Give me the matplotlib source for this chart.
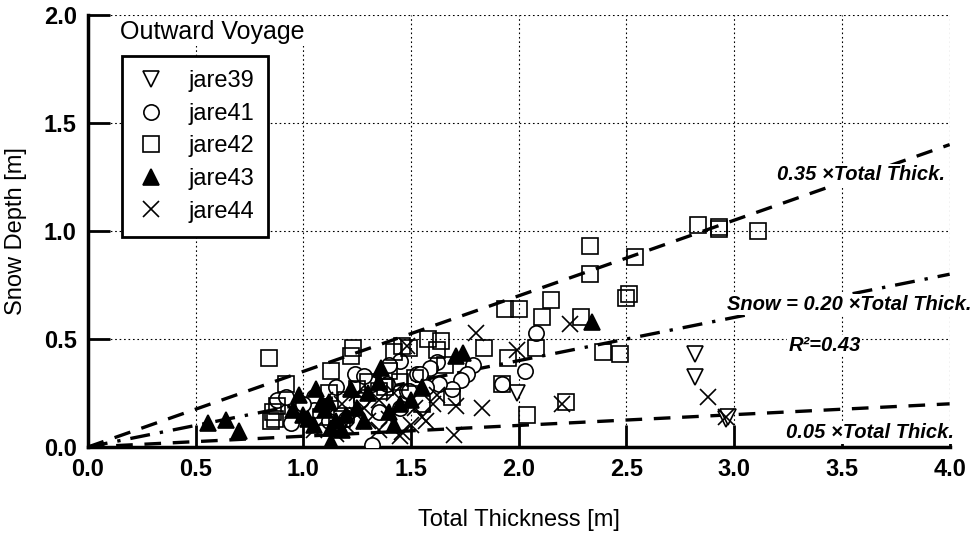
import numpy as np
import matplotlib
matplotlib.use("Agg")
import matplotlib.pyplot as plt

plt.rcParams['font.family'] = ['Liberation Sans', 'DejaVu Sans']

# ---- data (Total thickness [m], Snow depth [m]) ----
jare39_x = [1.99, 2.82, 2.82, 2.96, 2.97]
jare39_y = [0.25, 0.43, 0.325, 0.13, 0.14]

jare41_x = [0.88, 0.92, 0.975, 0.945, 1.05, 1.10, 1.24, 1.32, 1.39, 1.48, 1.45, 1.45,
            1.53, 1.32, 1.20, 2.08, 2.03, 1.92, 1.79, 1.76, 1.73, 1.69, 1.62, 1.59,
            1.54, 1.63, 1.49, 1.40, 1.05, 1.15, 1.27, 1.35, 1.00, 1.12, 1.57, 1.28]
jare41_y = [0.22, 0.23, 0.16, 0.11, 0.23, 0.19, 0.34, 0.29, 0.29, 0.26, 0.18, 0.40,
            0.34, 0.01, 0.13, 0.53, 0.35, 0.29, 0.38, 0.34, 0.31, 0.27, 0.395, 0.365,
            0.34, 0.29, 0.26, 0.38, 0.17, 0.28, 0.22, 0.16, 0.20, 0.12, 0.28, 0.33]

jare42_x = [0.84, 1.23, 1.22, 1.13, 0.92, 0.86, 0.87, 0.88, 0.85, 1.46, 1.49, 1.935,
            2.00, 2.15, 2.11, 2.33, 2.33, 2.29, 2.08, 1.95, 1.92, 2.04, 2.22, 1.84,
            1.69, 1.58, 1.64, 1.62, 1.66, 2.83, 2.54, 2.51, 2.50, 2.39, 2.47, 2.93,
            2.93, 3.11, 1.42, 1.30, 1.20, 1.35, 1.25, 1.12, 1.40, 1.52, 1.18, 1.55,
            1.45, 1.38, 1.08]
jare42_y = [0.41, 0.46, 0.42, 0.35, 0.29, 0.16, 0.13, 0.19, 0.12, 0.47, 0.46, 0.64,
            0.64, 0.68, 0.60, 0.80, 0.93, 0.60, 0.46, 0.41, 0.29, 0.15, 0.21, 0.46,
            0.23, 0.50, 0.49, 0.45, 0.38, 1.03, 0.88, 0.71, 0.69, 0.44, 0.43, 1.01,
            1.02, 1.00, 0.44, 0.30, 0.22, 0.26, 0.27, 0.25, 0.35, 0.32, 0.13, 0.20,
            0.30, 0.28, 0.14]

jare43_x = [0.56, 0.64, 0.70, 0.98, 1.06, 1.13, 1.13, 1.36, 1.71, 1.74, 2.34, 1.00,
            1.05, 1.10, 1.15, 1.20, 1.18, 1.08, 1.25, 1.30, 1.40, 1.45, 1.02, 1.35,
            1.12, 1.50, 1.28, 1.42, 1.55, 0.95, 1.22]
jare43_y = [0.11, 0.125, 0.075, 0.24, 0.27, 0.025, 0.09, 0.365, 0.42, 0.435, 0.58, 0.15,
            0.10, 0.17, 0.12, 0.15, 0.08, 0.20, 0.18, 0.25, 0.16, 0.20, 0.13, 0.30,
            0.21, 0.22, 0.12, 0.10, 0.28, 0.17, 0.27]

jare44_x = [1.80, 1.99, 2.24, 2.20, 2.88, 2.96, 1.55, 1.46, 1.70, 1.71, 1.83, 1.48,
            1.15, 1.20, 1.25, 1.30, 1.35, 1.40, 1.45, 1.50, 1.52, 1.57, 1.60, 1.35,
            1.25, 1.10, 1.05, 1.42, 1.62, 1.28, 1.18]
jare44_y = [0.53, 0.45, 0.57, 0.20, 0.23, 0.14, 0.14, 0.07, 0.055, 0.19, 0.18, 0.47,
            0.06, 0.10, 0.15, 0.12, 0.08, 0.13, 0.05, 0.10, 0.18, 0.12, 0.20, 0.22,
            0.25, 0.22, 0.08, 0.25, 0.24, 0.18, 0.20]

ratios = [0.35, 0.20, 0.05]
line_styles = [(0, (5, 3.5)), (0, (6, 3, 1, 3)), (0, (5, 3.5))]

fig = plt.figure(figsize=(9.76, 5.36), dpi=100)
ax = fig.add_axes([0.090, 0.166, 0.883, 0.806])

# reference lines
xl = np.array([0.0, 4.0])
for r, ls in zip(ratios, line_styles):
    ax.plot(xl, r * xl, color='black', lw=2.4, linestyle=ls, zorder=2)

ms = 11
ax.plot(jare39_x, jare39_y, 'v', ms=ms, mfc='white', mec='black', mew=1.2, ls='none', label='jare39', zorder=3)
ax.plot(jare41_x, jare41_y, 'o', ms=ms, mfc='white', mec='black', mew=1.2, ls='none', label='jare41', zorder=3)
ax.plot(jare42_x, jare42_y, 's', ms=ms, mfc='none', mec='black', mew=1.2, ls='none', label='jare42', zorder=3)
ax.plot(jare43_x, jare43_y, '^', ms=ms, mfc='black', mec='black', mew=1.2, ls='none', label='jare43', zorder=3)
ax.plot(jare44_x, jare44_y, 'x', ms=ms, mec='black', mew=1.2, ls='none', label='jare44', zorder=3)

ax.set_xlim(0, 4.0)
ax.set_ylim(0, 2.0)
ax.set_xticks(np.arange(0, 4.01, 0.5))
ax.set_yticks(np.arange(0, 2.01, 0.5))
ax.xaxis.set_major_formatter(matplotlib.ticker.FormatStrFormatter('%.1f'))
ax.yaxis.set_major_formatter(matplotlib.ticker.FormatStrFormatter('%.1f'))
ax.tick_params(direction='in', length=16, width=2, labelsize=17, pad=8)
for lbl in ax.get_xticklabels() + ax.get_yticklabels():
    lbl.set_fontweight('bold')
ax.grid(True, color='black', linestyle=(0, (1.5, 2.5)), lw=0.8)
ax.set_axisbelow(True)

for s in ['top', 'right']:
    ax.spines[s].set_visible(False)
for s in ['left', 'bottom']:
    ax.spines[s].set_linewidth(2.5)

ax.set_xlabel('Total Thickness [m]', fontsize=17, labelpad=20)
ax.set_ylabel('Snow Depth [m]', fontsize=17, labelpad=12)

# legend
ax.text(0.15, 1.92, 'Outward Voyage', fontsize=18, ha='left', va='center',
        bbox=dict(facecolor='white', edgecolor='none', pad=1))
leg = ax.legend(loc='upper left', bbox_to_anchor=(0.04, 0.905), fontsize=17,
                frameon=True, fancybox=False, handlelength=1.2, handletextpad=1.0,
                labelspacing=0.45, borderpad=0.6, borderaxespad=0)
leg.get_frame().set_edgecolor('black')
leg.get_frame().set_linewidth(2)
leg.get_frame().set_alpha(1)

# annotations
bb = dict(facecolor='white', edgecolor='none', pad=1)
tk = dict(fontsize=14.5, style='italic', fontweight='bold', zorder=4)
ax.text(3.98, 1.26, '0.35 \u00d7Total Thick.', ha='right', va='center', bbox=bb, **tk)
ax.text(4.1, 0.66, 'Snow = 0.20 \u00d7Total Thick.', ha='right', va='center', bbox=bb, **tk)
ax.text(3.42, 0.47, 'R\u00b2=0.43', ha='center', va='center', bbox=bb, **tk)
ax.text(4.02, 0.065, '0.05 \u00d7Total Thick.', ha='right', va='center', bbox=bb, **tk)

fig.savefig('out.png', dpi=100)
